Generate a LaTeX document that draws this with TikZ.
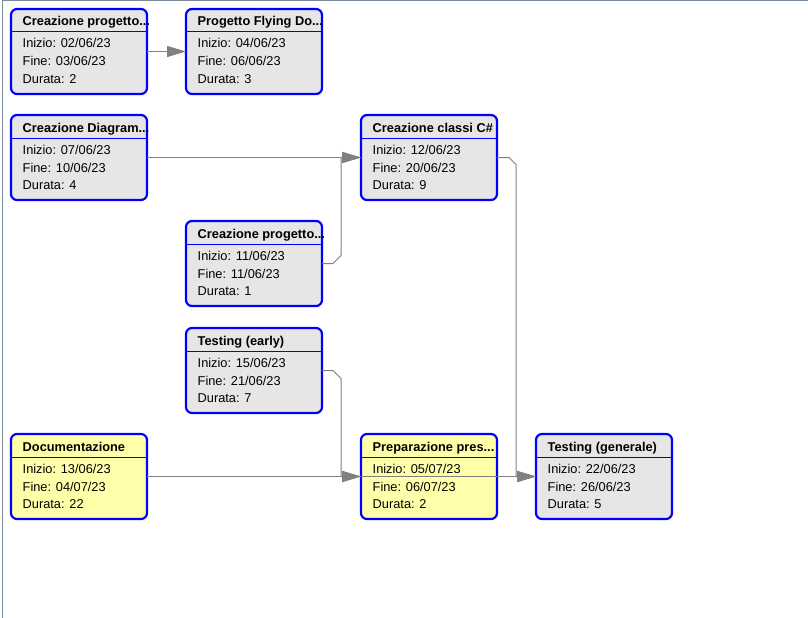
\documentclass[tikz,border=0pt]{standalone}
\usepackage{fontspec}
\setmainfont{Liberation Sans}
\usetikzlibrary{arrows.meta}
\usetikzlibrary{positioning}
\definecolor{boxgray}{RGB}{230,230,230}
\definecolor{boxyellow}{RGB}{255,255,170}
\definecolor{linkgray}{RGB}{128,128,128}
\definecolor{framegray}{RGB}{122,138,155}

\begin{document}
\begin{tikzpicture}[x=1pt, y=-1pt,
	task/.style={draw=blue, line width=2.2pt, rounded corners=6pt, fill=boxgray,
		anchor=north west, minimum width=136pt, minimum height=85pt, inner sep=0pt, outer sep=0pt},
	hot/.style={task, fill=boxyellow},
	ttl/.style={anchor=base west, inner sep=0pt, font=\fontsize{12.8}{15}\selectfont\bfseries},
	txt/.style={anchor=base west, inner sep=0pt, font=\fontsize{12.8}{15}\selectfont},
	sep/.style={draw=blue, line width=1pt},
	link/.style={draw=linkgray, line width=1pt, -{Triangle[length=19pt,width=11pt]}}]
	\useasboundingbox (0,0) rectangle (808,618);
	\draw[framegray, line width=1pt] (2.5,618) -- (2.5,0.75);
	\draw[framegray, line width=1.5pt] (2,0.75) -- (808,0.75);
	% row 1
	\node[task] (setup) at (11,9) {};
	\draw[sep] ([shift={(0,23)}]setup.north west) -- ([shift={(0,23)}]setup.north east);
	\node[ttl] (setup-t) at ([shift={(11.5,17)}]setup.north west) {Creazione progetto...};
	\node[txt] (setup-s) at ([shift={(11.5,39)}]setup.north west) {Inizio: 02/06/23};
	\node[txt] (setup-e) at ([shift={(11.5,57)}]setup.north west) {Fine: 03/06/23};
	\node[txt] (setup-d) at ([shift={(11.5,74)}]setup.north west) {Durata: 2};
	\node[task] (flying) at (186,9) {};
	\draw[sep] ([shift={(0,23)}]flying.north west) -- ([shift={(0,23)}]flying.north east);
	\node[ttl] (flying-t) at ([shift={(11.5,17)}]flying.north west) {Progetto Flying Do...};
	\node[txt] (flying-s) at ([shift={(11.5,39)}]flying.north west) {Inizio: 04/06/23};
	\node[txt] (flying-e) at ([shift={(11.5,57)}]flying.north west) {Fine: 06/06/23};
	\node[txt] (flying-d) at ([shift={(11.5,74)}]flying.north west) {Durata: 3};
	% row 2
	\node[task] (diagram) at (11,115) {};
	\draw[sep] ([shift={(0,23)}]diagram.north west) -- ([shift={(0,23)}]diagram.north east);
	\node[ttl] (diagram-t) at ([shift={(11.5,17)}]diagram.north west) {Creazione Diagram...};
	\node[txt] (diagram-s) at ([shift={(11.5,39)}]diagram.north west) {Inizio: 07/06/23};
	\node[txt] (diagram-e) at ([shift={(11.5,57)}]diagram.north west) {Fine: 10/06/23};
	\node[txt] (diagram-d) at ([shift={(11.5,74)}]diagram.north west) {Durata: 4};
	\node[task] (classes) at (361,115) {};
	\draw[sep] ([shift={(0,23)}]classes.north west) -- ([shift={(0,23)}]classes.north east);
	\node[ttl] (classes-t) at ([shift={(11.5,17)}]classes.north west) {Creazione classi C\#};
	\node[txt] (classes-s) at ([shift={(11.5,39)}]classes.north west) {Inizio: 12/06/23};
	\node[txt] (classes-e) at ([shift={(11.5,57)}]classes.north west) {Fine: 20/06/23};
	\node[txt] (classes-d) at ([shift={(11.5,74)}]classes.north west) {Durata: 9};
	% row 3
	\node[task] (unity) at (186,221) {};
	\draw[sep] ([shift={(0,23)}]unity.north west) -- ([shift={(0,23)}]unity.north east);
	\node[ttl] (unity-t) at ([shift={(11.5,17)}]unity.north west) {Creazione progetto...};
	\node[txt] (unity-s) at ([shift={(11.5,39)}]unity.north west) {Inizio: 11/06/23};
	\node[txt] (unity-e) at ([shift={(11.5,57)}]unity.north west) {Fine: 11/06/23};
	\node[txt] (unity-d) at ([shift={(11.5,74)}]unity.north west) {Durata: 1};
	% row 4
	\node[task] (early) at (186,328) {};
	\draw[sep] ([shift={(0,23)}]early.north west) -- ([shift={(0,23)}]early.north east);
	\node[ttl] (early-t) at ([shift={(11.5,17)}]early.north west) {Testing (early)};
	\node[txt] (early-s) at ([shift={(11.5,39)}]early.north west) {Inizio: 15/06/23};
	\node[txt] (early-e) at ([shift={(11.5,57)}]early.north west) {Fine: 21/06/23};
	\node[txt] (early-d) at ([shift={(11.5,74)}]early.north west) {Durata: 7};
	% row 5
	\node[hot] (docs) at (11,434) {};
	\draw[sep] ([shift={(0,23)}]docs.north west) -- ([shift={(0,23)}]docs.north east);
	\node[ttl] (docs-t) at ([shift={(11.5,17)}]docs.north west) {Documentazione};
	\node[txt] (docs-s) at ([shift={(11.5,39)}]docs.north west) {Inizio: 13/06/23};
	\node[txt] (docs-e) at ([shift={(11.5,57)}]docs.north west) {Fine: 04/07/23};
	\node[txt] (docs-d) at ([shift={(11.5,74)}]docs.north west) {Durata: 22};
	\node[hot] (talk) at (361,434) {};
	\draw[sep] ([shift={(0,23)}]talk.north west) -- ([shift={(0,23)}]talk.north east);
	\node[ttl] (talk-t) at ([shift={(11.5,17)}]talk.north west) {Preparazione pres...};
	\node[txt] (talk-s) at ([shift={(11.5,39)}]talk.north west) {Inizio: 05/07/23};
	\node[txt] (talk-e) at ([shift={(11.5,57)}]talk.north west) {Fine: 06/07/23};
	\node[txt] (talk-d) at ([shift={(11.5,74)}]talk.north west) {Durata: 2};
	\node[task] (final) at (536,434) {};
	\draw[sep] ([shift={(0,23)}]final.north west) -- ([shift={(0,23)}]final.north east);
	\node[ttl] (final-t) at ([shift={(11.5,17)}]final.north west) {Testing (generale)};
	\node[txt] (final-s) at ([shift={(11.5,39)}]final.north west) {Inizio: 22/06/23};
	\node[txt] (final-e) at ([shift={(11.5,57)}]final.north west) {Fine: 26/06/23};
	\node[txt] (final-d) at ([shift={(11.5,74)}]final.north west) {Durata: 5};
	% links
	\draw[link] (setup.east) -- (flying.west);
	\draw[link] (diagram.east) -- (classes.west);
	\draw[link] (unity.east) -- ++(11,0) -- ++(8,-8) |- (classes.west);
	\draw[link] (classes.east) -- ++(12,0) -- ++(7,7) |- (final.west);
	\draw[link] (early.east) -- ++(11,0) -- ++(8,8) |- (talk.west);
	\draw[link] (docs.east) -- (talk.west);
	\draw[link] (talk.west) -- (final.west);
\end{tikzpicture}
\end{document}
